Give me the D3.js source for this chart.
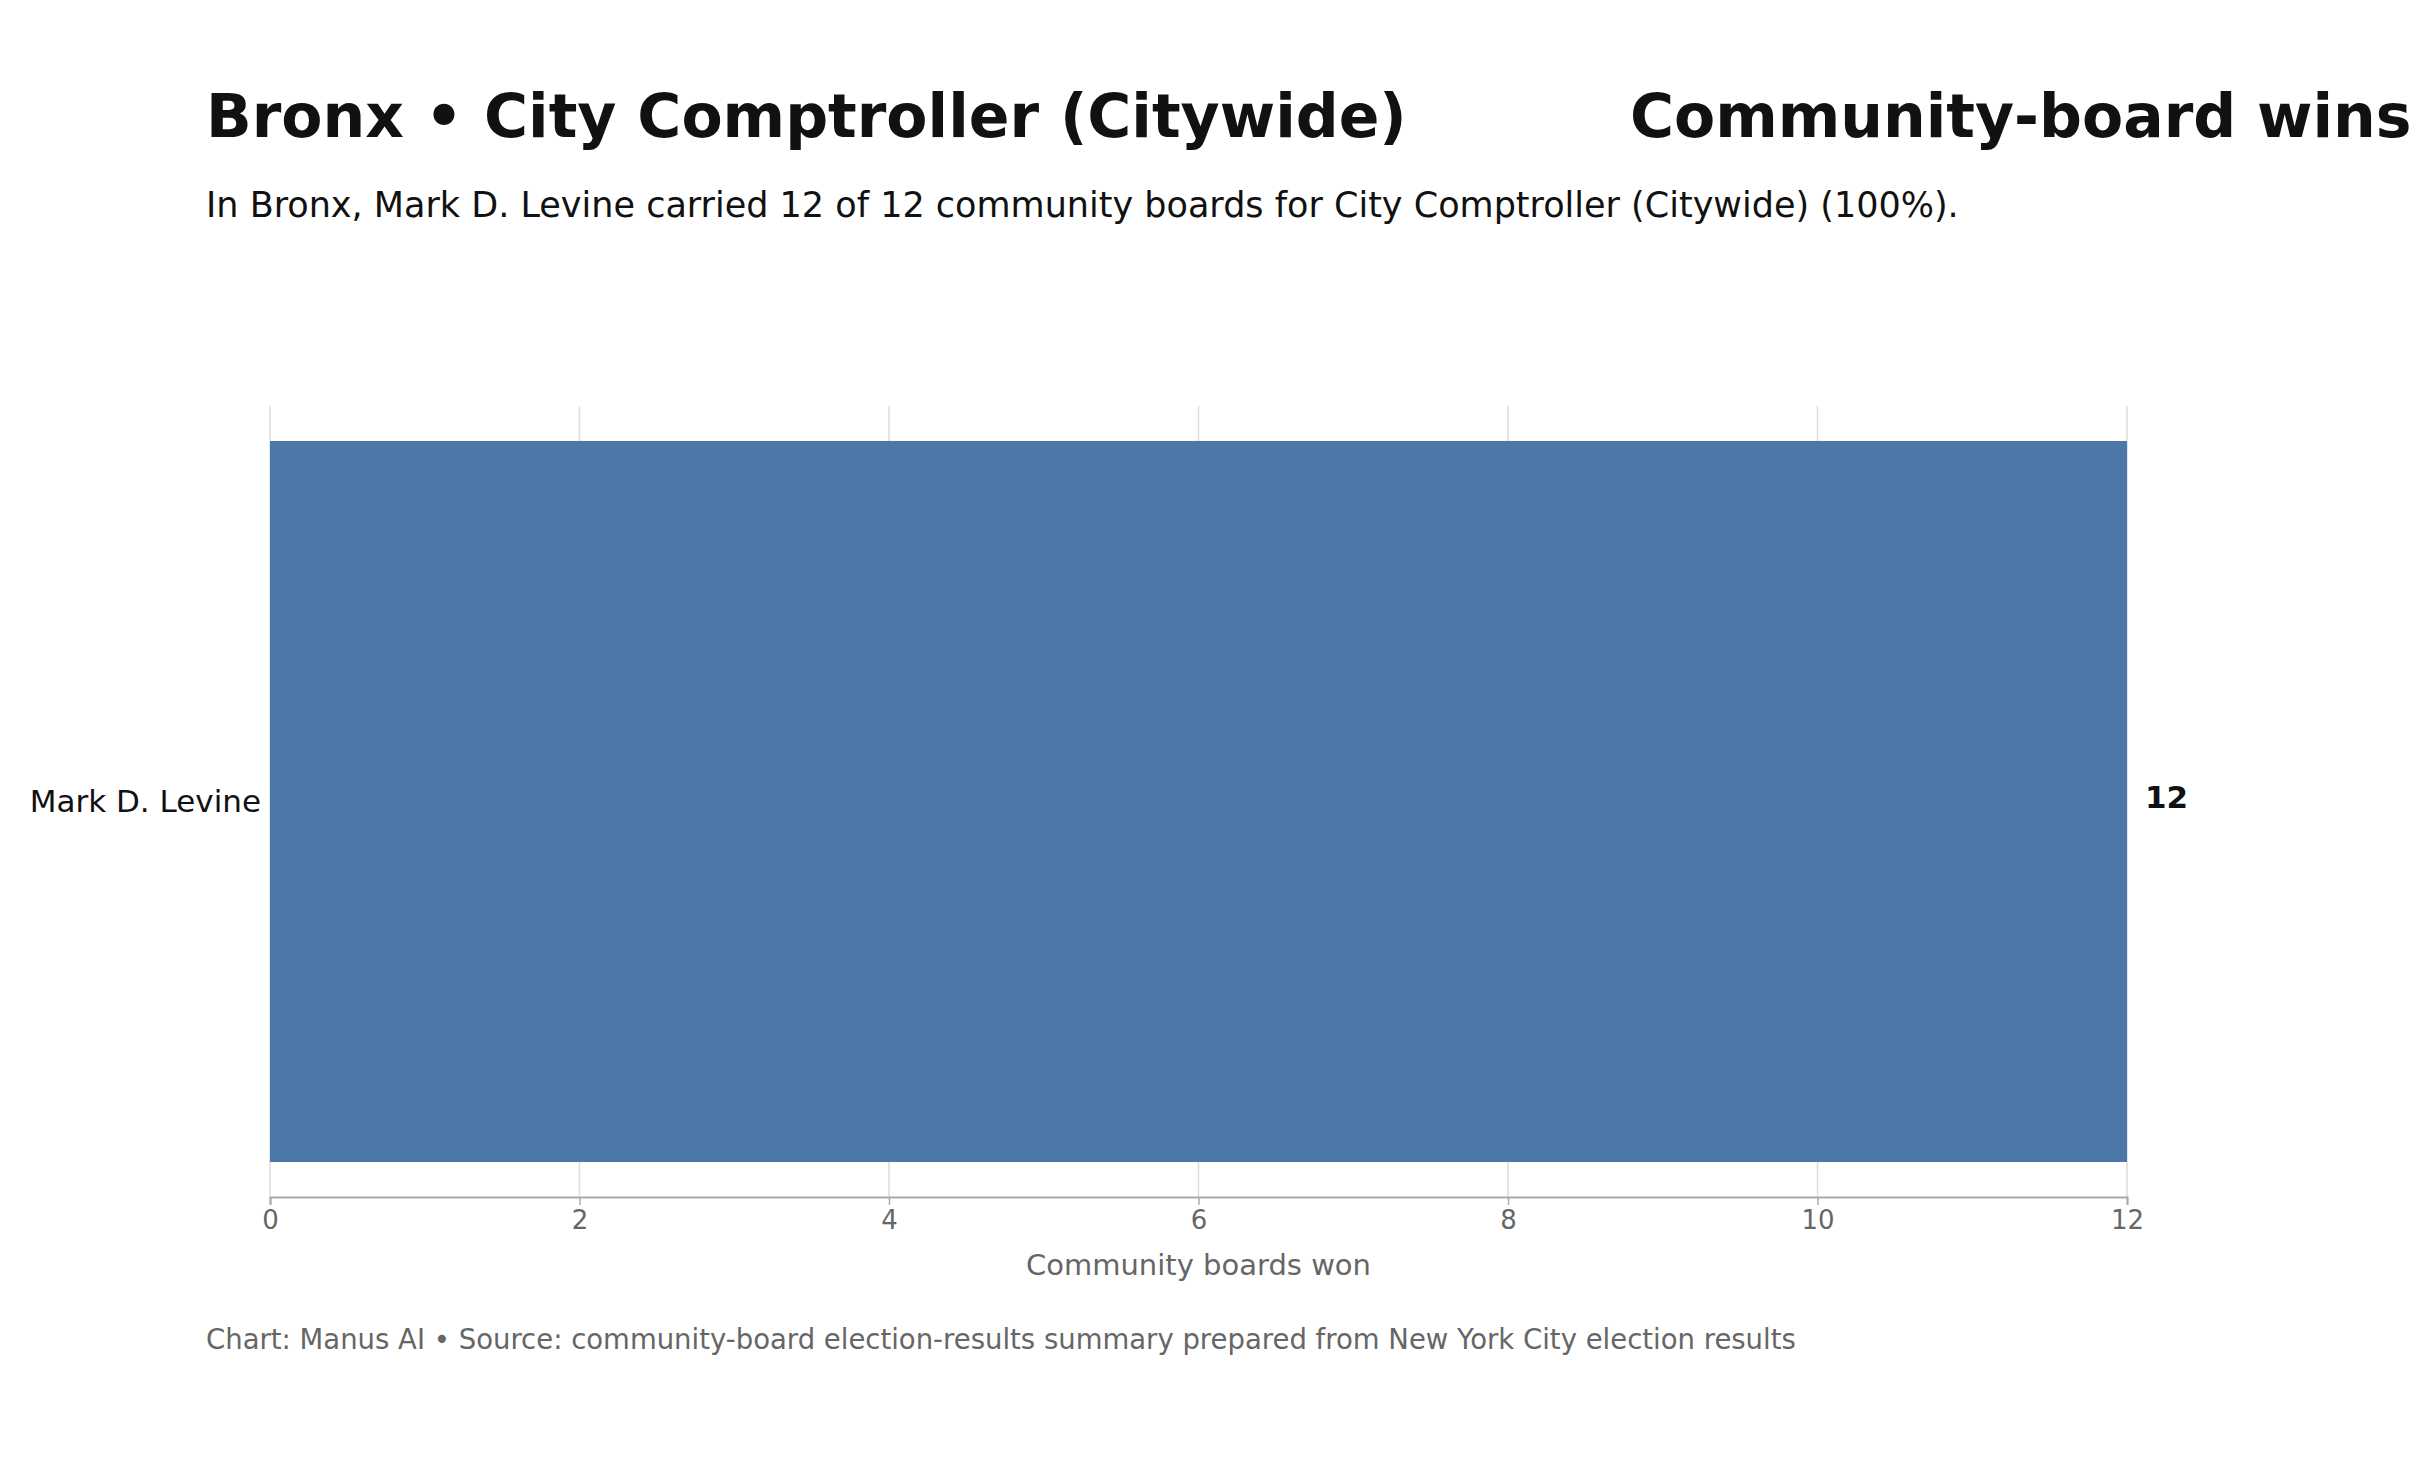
<!DOCTYPE html>
<html><head><meta charset="utf-8">
<script src="https://cdn.jsdelivr.net/npm/d3@7"></script>
<style>body{margin:0;background:#fff;overflow:hidden}svg{font-family:"DejaVu Sans",sans-serif}</style>
</head><body><div id="chart"></div>
<script>
const candidates = ["Mark D. Levine"];
const boardsWon = [12];
const xTicks = [0, 2, 4, 6, 8, 10, 12];

const W = 2429, H = 1475;
const margin = { top: 406, right: 302, bottom: 278, left: 270 };
const axisY = H - margin.bottom;
const svg = d3.select("#chart").append("svg").attr("width", W).attr("height", H);

const x = d3.scaleLinear().domain([0, 12]).range([margin.left, W - margin.right]);
const y = d3.scaleBand().domain(candidates).range([margin.top, axisY]).paddingInner(0).paddingOuter(0.0485);

// gridlines
svg.append("g").selectAll("line").data(xTicks).join("line")
  .attr("x1", d => x(d)).attr("x2", d => x(d))
  .attr("y1", margin.top).attr("y2", axisY)
  .attr("stroke", "#dddddd").attr("stroke-width", 1.5);

svg.append("g").selectAll("rect").data(candidates).join("rect")
  .attr("x", x(0)).attr("y", d => y(d))
  .attr("width", (d, i) => x(boardsWon[i]) - x(0))
  .attr("height", y.bandwidth())
  .attr("fill", "#4c78a8");

const axis = svg.append("g").attr("transform", `translate(0,${axisY})`)
  .call(d3.axisBottom(x).tickValues(xTicks).tickSize(8).tickPadding(6));
axis.select(".domain").attr("stroke", "#aaaaaa").attr("stroke-width", 2);
axis.selectAll(".tick line").attr("stroke", "#aaaaaa").attr("stroke-width", 1.5);
axis.selectAll(".tick text").attr("fill", "#666").attr("font-size", 26).attr("font-family", "DejaVu Sans");

svg.append("g").selectAll("text").data(candidates).join("text")
  .attr("x", x(0) - 9).attr("y", d => y(d) + y.bandwidth() / 2)
  .attr("dy", "0.35em").attr("text-anchor", "end")
  .attr("font-size", 31).attr("fill", "#111").text(d => d);

svg.append("g").selectAll("text").data(candidates).join("text")
  .attr("x", (d, i) => x(boardsWon[i]) + 18).attr("y", d => y(d) + y.bandwidth() / 2 - 4)
  .attr("dy", "0.35em").attr("font-size", 31).attr("font-weight", "bold")
  .attr("fill", "#111").text((d, i) => boardsWon[i]);

svg.append("text").attr("x", (x(0) + x(12)) / 2).attr("y", 1275)
  .attr("text-anchor", "middle").attr("font-size", 29).attr("fill", "#666")
  .text("Community boards won");

svg.append("text").attr("x", 206).attr("y", 137).attr("font-size", 60)
  .attr("font-weight", "bold").attr("fill", "#111")
  .text("Bronx • City Comptroller (Citywide)");
svg.append("text").attr("x", 1630).attr("y", 137).attr("font-size", 60)
  .attr("font-weight", "bold").attr("fill", "#111")
  .text("Community-board wins");

svg.append("text").attr("x", 206).attr("y", 217).attr("font-size", 35).attr("fill", "#111")
  .text("In Bronx, Mark D. Levine carried 12 of 12 community boards for City Comptroller (Citywide) (100%).");

svg.append("text").attr("x", 206).attr("y", 1349).attr("font-size", 27.5).attr("fill", "#666")
  .text("Chart: Manus AI • Source: community-board election-results summary prepared from New York City election results");
</script></body></html>
